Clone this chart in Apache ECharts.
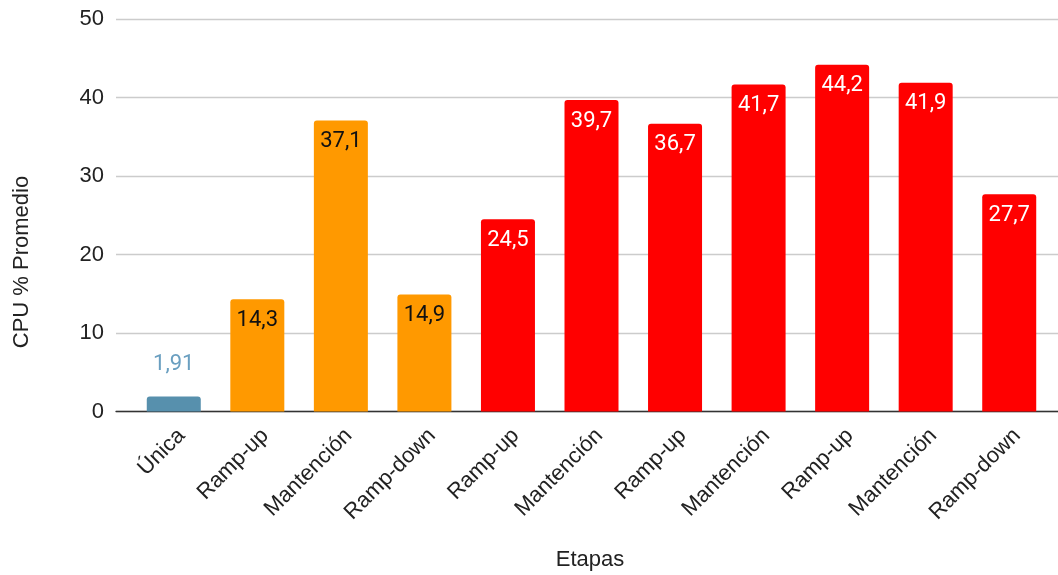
<!DOCTYPE html>
<html>
<head>
<meta charset="utf-8">
<script src="https://cdn.jsdelivr.net/npm/echarts@6/dist/echarts.min.js"></script>
<style>html,body{margin:0;padding:0;background:#fff;}#c{width:1058px;height:575px;}</style>
</head>
<body>
<div id="c"></div>
<script>
const categories = ['Única','Ramp-up','Mantención','Ramp-down','Ramp-up','Mantención','Ramp-up','Mantención','Ramp-up','Mantención','Ramp-down'];
const values = [1.91, 14.3, 37.1, 14.9, 24.5, 39.7, 36.7, 41.7, 44.2, 41.9, 27.7];
const barColors = ['#5790ad','#ff9900','#ff9900','#ff9900','#ff0000','#ff0000','#ff0000','#ff0000','#ff0000','#ff0000','#ff0000'];
const labelColors = ['#6a9fc0','#111111','#111111','#111111','#ffffff','#ffffff','#ffffff','#ffffff','#ffffff','#ffffff','#ffffff'];
const labelInside = [false,true,true,true,true,true,true,true,true,true,true];
const yTicks = {min:0, max:50, interval:10};

const chart = echarts.init(document.getElementById('c'));
const data = values.map((v,i)=>({
  value: v,
  itemStyle: {color: barColors[i], borderRadius:[3,3,0,0]},
  label: {
    show: true,
    position: labelInside[i] ? 'insideTop' : 'top',
    distance: labelInside[i] ? 10 : 21,
    color: labelColors[i],
    fontFamily: 'Roboto',
    fontSize: 22,
    formatter: p => String(p.value).replace('.', ',')
  }
}));
chart.setOption({
  animation:false,
  grid:[
    {left:116, right:0, top:19.3, bottom:163.5},
    {left:132, right:7, top:19.3, bottom:163.5}
  ],
  xAxis:[
    {type:'value', gridIndex:0, min:0, max:1, axisLabel:{show:false}, splitLine:{show:false}, axisTick:{show:false},
     axisLine:{show:true, lineStyle:{color:'#333', width:1.3}}},
    {type:'category', gridIndex:1, data:categories, axisLine:{show:false}, axisTick:{show:false},
     axisLabel:{rotate:45, fontFamily:'Liberation Sans', fontSize:22, color:'#222', margin:13, interval:0, verticalAlign:'top'}}
  ],
  yAxis:[
    {type:'value', gridIndex:0, min:yTicks.min, max:yTicks.max, interval:yTicks.interval,
     axisLabel:{fontFamily:'Liberation Sans', fontSize:22, color:'#222', margin:12},
     axisLine:{show:false}, axisTick:{show:false}, splitLine:{lineStyle:{color:'#cccccc', width:1.3}}},
    {type:'value', gridIndex:1, min:yTicks.min, max:yTicks.max, interval:yTicks.interval, show:false, splitLine:{show:false}}
  ],
  series:[{
    type:'bar', xAxisIndex:1, yAxisIndex:1, barWidth:54, data: data
  }],
  graphic:[
    {type:'text', x:590, y:560, style:{text:'Etapas', font:'22px "Liberation Sans"', fill:'#222', align:'center', verticalAlign:'middle'}},
    {type:'text', x:22, y:262, rotation:Math.PI/2, style:{text:'CPU % Promedio', font:'22px "Liberation Sans"', fill:'#222', align:'center', verticalAlign:'middle'}}
  ]
});
</script>
</body>
</html>
